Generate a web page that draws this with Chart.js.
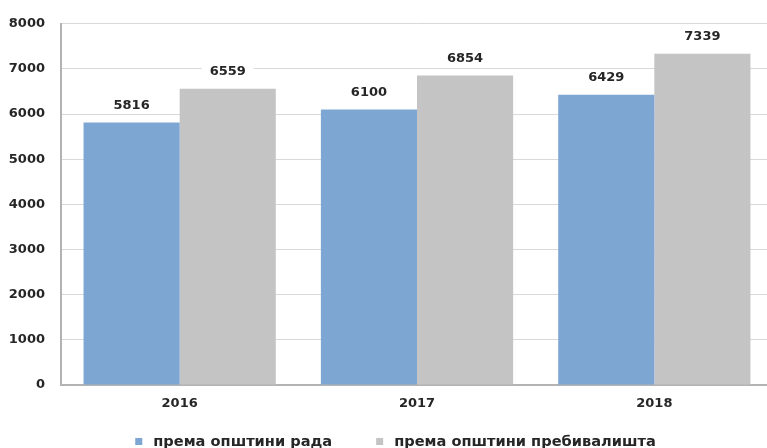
<!DOCTYPE html>
<html>
<head>
<meta charset="utf-8">
<script src="https://cdn.jsdelivr.net/npm/chart.js@4.4.1/dist/chart.umd.min.js"></script>
<style>
  html, body { margin: 0; padding: 0; overflow: hidden; background: #fff; }
  #c { position: absolute; left: 0; top: 0; }
</style>
</head>
<body>
<canvas id="c" width="774" height="448" style="width:774px;height:448px"></canvas>
<script>
const categories = ['2016', '2017', '2018'];
const seriesNames = ['према општини рада', 'према општини пребивалишта'];
const byWorkplace = [5816, 6100, 6429];
const byResidence = [6559, 6854, 7339];
const yTicks = [0, 1000, 2000, 3000, 4000, 5000, 6000, 7000, 8000];

const FONT = 'DejaVu Sans';
const TEXT = '#262626';

const valueLabels = {
  id: 'valueLabels',
  afterDatasetsDraw(chart) {
    const ctx = chart.ctx;
    ctx.save();
    ctx.font = 'bold 13px "' + FONT + '"';
    ctx.textAlign = 'center';
    ctx.textBaseline = 'middle';
    chart.data.datasets.forEach((ds, i) => {
      const meta = chart.getDatasetMeta(i);
      meta.data.forEach((bar, j) => {
        const txt = String(ds.data[j]);
        const w = ctx.measureText(txt).width + 16;
        const cy = bar.y - 17;
        ctx.fillStyle = '#ffffff';
        ctx.fillRect(bar.x - w / 2, cy - 8, w, 16);
        ctx.fillStyle = TEXT;
        ctx.fillText(txt, bar.x, cy);
      });
    });
    ctx.restore();
  }
};

const bottomLegend = {
  id: 'bottomLegend',
  afterDraw(chart) {
    const ctx = chart.ctx;
    ctx.save();
    ctx.font = 'bold 14.6px "' + FONT + '"';
    ctx.textBaseline = 'middle';
    ctx.textAlign = 'left';
    const box = 7, gapBoxText = 11, gapItems = 44;
    const items = chart.data.datasets.map(ds => ({ text: ds.label, color: ds.backgroundColor, w: ctx.measureText(ds.label).width }));
    let total = 0;
    items.forEach((it, k) => { total += box + gapBoxText + it.w + (k ? gapItems : 0); });
    let x = 395.5 - total / 2;
    const y = 442;
    items.forEach((it, k) => {
      if (k) x += gapItems;
      ctx.fillStyle = it.color;
      ctx.fillRect(x, y - 4, box, box);
      x += box + gapBoxText;
      ctx.fillStyle = TEXT;
      ctx.fillText(it.text, x, y);
      x += it.w;
    });
    ctx.restore();
  }
};

new Chart(document.getElementById('c'), {
  type: 'bar',
  data: {
    labels: categories,
    datasets: [
      { label: seriesNames[0], data: byWorkplace, backgroundColor: '#7ea6d3', borderWidth: 0 },
      { label: seriesNames[1], data: byResidence, backgroundColor: '#c4c4c4', borderWidth: 0 }
    ]
  },
  options: {
    responsive: false,
    maintainAspectRatio: false,
    animation: false,
    devicePixelRatio: 1,
    layout: { padding: { top: 21, left: 0, right: 1, bottom: 0 } },
    datasets: { bar: { categoryPercentage: 0.81, barPercentage: 1.0 } },
    scales: {
      x: {
        grid: { display: false, drawTicks: false },
        border: { display: true, color: '#b3b3b3', width: 2 },
        ticks: { padding: 11, color: TEXT, font: { family: FONT, size: 13, weight: 'bold' } },
        afterFit(scale) { scale.height = 63; }
      },
      y: {
        min: 0, max: 8000,
        afterBuildTicks(scale) { scale.ticks = yTicks.map(v => ({ value: v })); },
        grid: { drawTicks: false, color: '#d9d9d9' },
        border: { display: true, color: '#b3b3b3', width: 2 },
        ticks: {
          padding: 16, color: TEXT, font: { family: FONT, size: 13, weight: 'bold' },
          callback: (v) => String(v)
        },
        afterFit(scale) { scale.width = 61; }
      }
    },
    plugins: {
      tooltip: { enabled: false },
      legend: { display: false }
    }
  },
  plugins: [valueLabels, bottomLegend]
});
</script>
</body>
</html>
